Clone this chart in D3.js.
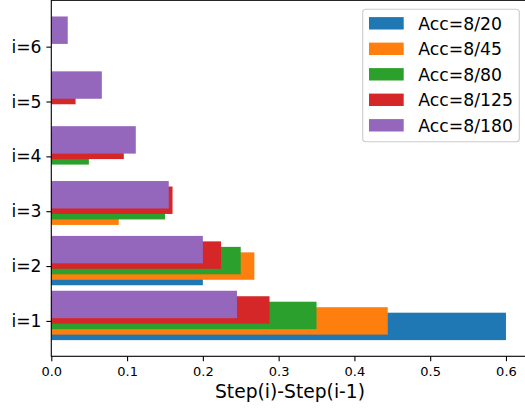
<!DOCTYPE html>
<html>
<head>
<meta charset="utf-8">
<script src="https://cdn.jsdelivr.net/npm/d3@7"></script>
<style>
  body { margin: 0; background: #fff; }
  svg { display: block; font-family: "DejaVu Sans", sans-serif; }
</style>
</head>
<body>
<svg id="chart" width="525" height="408"></svg>
<script>
// data
var categories = ["i=1", "i=2", "i=3", "i=4", "i=5", "i=6"];
var seriesNames = ["Acc=8/20", "Acc=8/45", "Acc=8/80", "Acc=8/125", "Acc=8/180"];
var acc20  = [0.600, 0.200, 0, 0, 0, 0];
var acc45  = [0.444, 0.268, 0.089, 0, 0, 0];
var acc80  = [0.350, 0.250, 0.150, 0.0496, 0, 0];
var acc125 = [0.288, 0.224, 0.160, 0.0957, 0.032, 0];
var acc180 = [0.245, 0.200, 0.155, 0.1115, 0.0667, 0.0217];
var xTicks = [0, 0.1, 0.2, 0.3, 0.4, 0.5, 0.6];

var allSeries = [acc20, acc45, acc80, acc125, acc180];
var colors = ["#1f77b4", "#ff7f0e", "#2ca02c", "#d62728", "#9467bd"];

var barH = 0.5, shift = 0.1;

var svg = d3.select("#chart");
var plotL = 51.3, plotR = 528.7, plotT = 0.3, plotB = 356.3;

// matplotlib style 5% margins
var xmax = d3.max(allSeries, function(s){ return d3.max(s); });
var x = d3.scaleLinear().domain([0, xmax * 1.05]).range([plotL, plotR]);

var lo = 1 + (0 - 1) * shift - barH / 2;
var hi = categories.length + (allSeries.length - 2) * shift + barH / 2;
var pad = (hi - lo) * 0.05;
var y = d3.scaleLinear().domain([lo - pad, hi + pad]).range([plotB, plotT]);

// bars, one series after the other so purple ends on top
allSeries.forEach(function(vals, k) {
  svg.append("g")
    .selectAll("rect")
    .data(vals)
    .enter()
    .append("rect")
    .attr("x", x(0))
    .attr("y", function(d, i){ return y(i + 1 + (k - 1) * shift + barH / 2); })
    .attr("width", function(d){ return x(d) - x(0); })
    .attr("height", function(d, i){ return y(i + 1) - y(i + 1 + barH); })
    .attr("fill", colors[k]);
});

// axes
var xAxis = d3.axisBottom(x)
    .tickValues(xTicks)
    .tickFormat(d3.format(".1f"))
    .tickSize(4.9)
    .tickPadding(5.8);
var gx = svg.append("g")
    .attr("transform", "translate(0," + plotB + ")")
    .call(xAxis)
    .attr("font-size", null).attr("font-family", null);
gx.select(".domain").remove();
gx.selectAll("text").style("font-size", "13px").attr("fill", "#000");
gx.selectAll("line").attr("stroke", "#000").attr("stroke-width", 1.1);

var yAxis = d3.axisLeft(y)
    .tickValues(d3.range(1, categories.length + 1))
    .tickFormat(function(d){ return categories[d - 1]; })
    .tickSize(4.9)
    .tickPadding(4.9);
var gy = svg.append("g")
    .attr("transform", "translate(" + plotL + ",0)")
    .call(yAxis)
    .attr("font-size", null).attr("font-family", null);
gy.select(".domain").remove();
gy.selectAll("text").style("font-size", "17.2px").attr("fill", "#000");
gy.selectAll("line").attr("stroke", "#000").attr("stroke-width", 1.1);

// spines
svg.append("rect")
    .attr("x", plotL).attr("y", plotT)
    .attr("width", plotR - plotL).attr("height", plotB - plotT)
    .attr("fill", "none").attr("stroke", "#000").attr("stroke-width", 1.1);

svg.append("text")
    .attr("x", (plotL + plotR) / 2)
    .attr("y", 398.3)
    .attr("text-anchor", "middle")
    .style("font-size", "18.7px")
    .text("Step(i)-Step(i-1)");

// legend
var lg = svg.append("g");
lg.append("rect")
    .attr("x", 362.7).attr("y", 9.3)
    .attr("width", 156.6).attr("height", 132.4)
    .attr("rx", 3).attr("ry", 3)
    .attr("fill", "#fff").attr("fill-opacity", 0.8)
    .attr("stroke", "#cccccc").attr("stroke-width", 1.1);

var rows = lg.selectAll("g.row")
    .data(seriesNames)
    .enter()
    .append("g")
    .attr("transform", function(d, i){ return "translate(0," + (23.3 + i * 25.5) + ")"; });
rows.append("rect")
    .attr("x", 369).attr("y", -6.2)
    .attr("width", 34.7).attr("height", 12.4)
    .attr("fill", function(d, i){ return colors[i]; });
rows.append("text")
    .attr("x", 418.3)
    .attr("y", 6.3)
    .style("font-size", "17.3px")
    .text(function(d){ return d; });
</script>
</body>
</html>
